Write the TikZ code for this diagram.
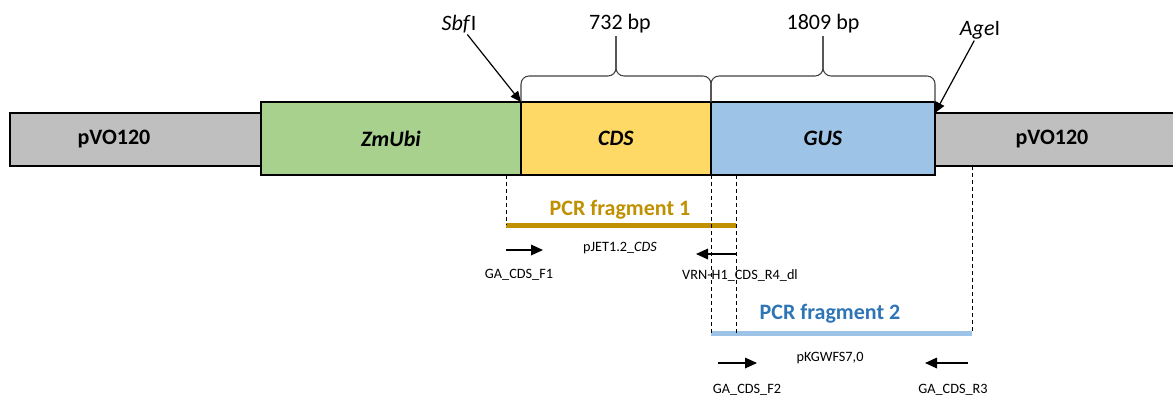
\documentclass[tikz,border=0pt]{standalone}
\usepackage{fontspec}
\setmainfont{Carlito}
\usetikzlibrary{arrows.meta}
\definecolor{vectorgrey}{HTML}{BFBFBF}
\definecolor{zmubigreen}{HTML}{A9D18E}
\definecolor{cdsyellow}{HTML}{FFD966}
\definecolor{gusblue}{HTML}{9DC3E6}
\definecolor{fragonegold}{HTML}{BF9000}
\definecolor{fragtwoblue}{HTML}{2E75B6}
\definecolor{braceline}{HTML}{404040}
\newcommand{\diagbig}{\fontsize{16.5}{19.8}\selectfont}
\newcommand{\diagsmall}{\fontsize{10.7}{12.8}\selectfont}
\tikzset{
	vectorstyle/.style={rectangle,draw=black,line width=1.5pt,fill=vectorgrey,minimum height=39.75pt,inner sep=0,outer sep=0},
	insertstyle/.style={rectangle,draw=black,line width=1.5pt,minimum height=54.75pt,inner sep=0,outer sep=0,font=\diagbig\bfseries},
	textstyle/.style={inner sep=1pt,font=\diagbig},
	bracestyle/.style={draw=braceline,line width=0.8pt,rounded corners=6pt},
	cutstyle/.style={draw=black,line width=0.9pt,-{Stealth[length=8pt,width=7pt,inset=0pt]}},
	guidestyle/.style={draw=black,line width=0.75pt,dash pattern=on 3pt off 2.25pt},
	fragonestyle/.style={draw=fragonegold,line width=3.75pt},
	fragtwostyle/.style={draw=gusblue,line width=3.75pt},
	primerstyle/.style={draw=black,line width=0.9pt,-{Stealth[length=9pt,width=8pt,inset=0pt]}},
	primertext/.style={inner sep=1pt,font=\diagsmall}
}
\begin{document}
\begin{tikzpicture}[x=0.75pt,y=-0.75pt]
	\useasboundingbox (0,0) rectangle (1173,397);
	% vector backbone
	\node[vectorstyle,minimum width=188.25pt] (vecl) at (135.5,139.5) {};
	\node[textstyle,font=\diagbig\bfseries] (vecllabel) at (114,139.5) {pVO120};
	\node[vectorstyle,minimum width=183.75pt] (vecr) at (1057.5,139.5) {};
	\node[textstyle,font=\diagbig\bfseries] (vecrlabel) at (1052,139.5) {pVO120};
	% insert
	\node[insertstyle,fill=zmubigreen,minimum width=195pt] (zmubi) at (391,138.5) {\textit{ZmUbi}};
	\node[insertstyle,fill=cdsyellow,minimum width=142.5pt] (cds) at (616,138.5) {\textit{CDS}};
	\node[insertstyle,fill=gusblue,minimum width=168pt] (gus) at (823,138.5) {\textit{GUS}};
	% lengths
	\draw[bracestyle] (cds.north west) |- (616,76) -- (616,36);
	\draw[bracestyle] (cds.north east) |- (616,76) -- (616,36);
	\node[textstyle] (cdslen) at (620,24) {732 bp};
	\draw[bracestyle] (gus.north west) |- (823,76) -- (823,36);
	\draw[bracestyle] (gus.north east) |- (823,76) -- (823,36);
	\node[textstyle] (guslen) at (823,24) {1809 bp};
	% cloning sites
	\node[textstyle] (sbf) at (459,24) {\textit{Sbf}I};
	\draw[cutstyle] (sbf) -- (cds.north west);
	\node[textstyle] (age) at (980,30) {\textit{Age}I};
	\draw[cutstyle] (age) -- (vecr.north west);
	% PCR fragments
	\coordinate (fonestart) at (506,225);
	\coordinate (foneend) at (736,225);
	\coordinate (ftwostart) at (711,333);
	\coordinate (ftwoend) at (972,333);
	\draw[fragonestyle] (fonestart) -- (foneend);
	\node[textstyle,font=\diagbig\bfseries,text=fragonegold] (fonelabel) at (620,210) {PCR fragment 1};
	\draw[fragtwostyle] (ftwostart) -- (ftwoend);
	\node[textstyle,font=\diagbig\bfseries,text=fragtwoblue] (ftwolabel) at (830,314) {PCR fragment 2};
	\draw[guidestyle] (zmubi.south -| fonestart) -- (fonestart);
	\draw[guidestyle] (cds.south east) -- (ftwostart);
	\draw[guidestyle] (gus.south -| foneend) -- (foneend |- ftwostart);
	\draw[guidestyle] (vecr.south -| ftwoend) -- (ftwoend);
	% primers
	\coordinate (pfonetail) at (506,250);
	\coordinate (pfonehead) at (543,250);
	\draw[primerstyle] (pfonetail) -- (pfonehead);
	\node[primertext] (pfonename) at (519,275) {GA\_CDS\_F1};
	\coordinate (prfourtail) at (737,254);
	\coordinate (prfourhead) at (696,254);
	\draw[primerstyle] (prfourtail) -- (prfourhead);
	\node[primertext] (prfourname) at (740,275) {VRN-H1\_CDS\_R4\_dl};
	\node[primertext] (pjet) at (620,248) {pJET1.2\_\textit{CDS}};
	\coordinate (pftwotail) at (718,363);
	\coordinate (pftwohead) at (757,363);
	\draw[primerstyle] (pftwotail) -- (pftwohead);
	\node[primertext] (pftwoname) at (747,390) {GA\_CDS\_F2};
	\coordinate (prthreetail) at (968,363);
	\coordinate (prthreehead) at (925,363);
	\draw[primerstyle] (prthreetail) -- (prthreehead);
	\node[primertext] (prthreename) at (953,390) {GA\_CDS\_R3};
	\node[primertext] (pkgw) at (830,358) {pKGWFS7,0};
\end{tikzpicture}
\end{document}
